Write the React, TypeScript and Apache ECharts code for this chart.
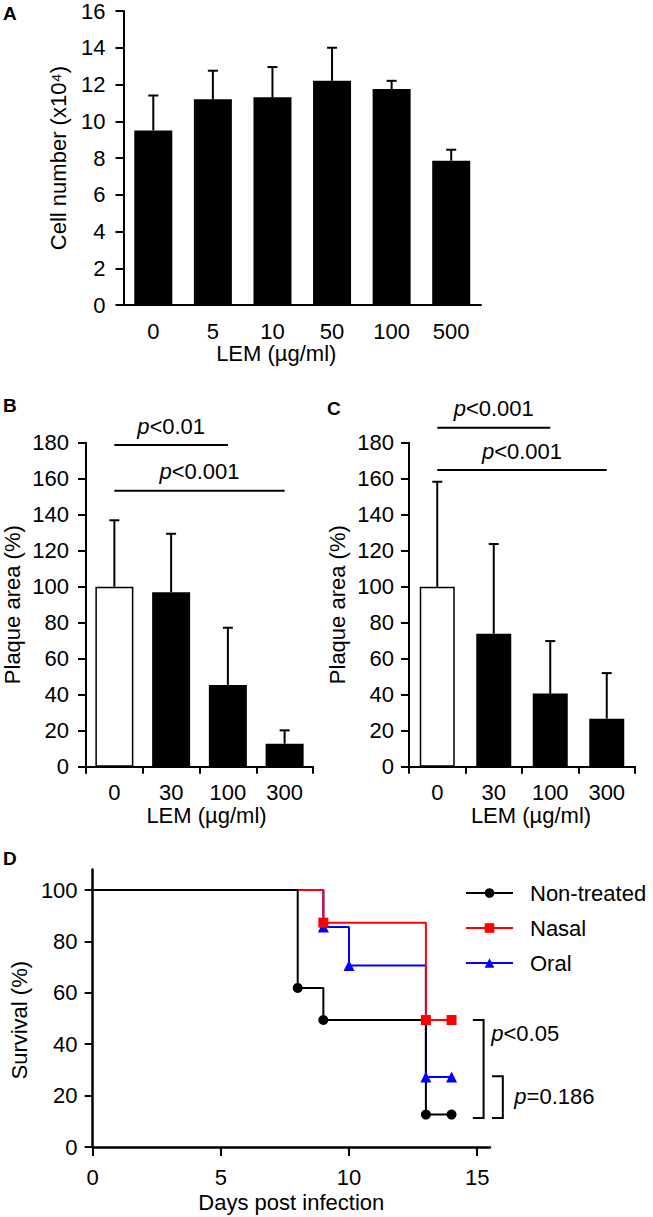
import React, { useEffect, useRef } from 'react';
import * as echarts from 'echarts';

const FONT = '"Liberation Sans", Arial, Helvetica, sans-serif';
const FS = 22;

// ---------- Panel A ----------
const aCategories = ['0', '5', '10', '50', '100', '500'];
const aMeans = [9.5, 11.2, 11.3, 12.2, 11.75, 7.85];
const aUpper = [11.4, 12.75, 12.95, 14.0, 12.2, 8.45];

// ---------- Panel B ----------
const bCategories = ['0', '30', '100', '300'];
const bMeans = [100, 96.9, 45.4, 12.8];
const bUpper = [136.9, 129.4, 77.2, 20.2];
const bSig = [
  { from: 0, to: 2, y: 178.7, label: '<0.01' },
  { from: 0, to: 3.1, y: 153.3, label: '<0.001' },
];

// ---------- Panel C ----------
const cCategories = ['0', '30', '100', '300'];
const cMeans = [100, 73.9, 40.6, 26.7];
const cUpper = [158.3, 123.7, 69.8, 52];
const cSig = [
  { from: 0.02, to: 2.05, y: 188.3, label: '<0.001' },
  { from: 0, to: 3.15, y: 164.8, label: '<0.001' },
];

// ---------- Panel D ----------
const nonDays = [0, 8, 9, 13, 14];
const nonSurv = [100, 61.9, 49.4, 12.6, 12.6];
const nasalDays = [0, 9, 13, 14];
const nasalSurv = [100, 87.3, 49.4, 49.4];
const oralDays = [0, 9, 10, 13, 14];
const oralSurv = [100, 85.6, 70.6, 27.2, 27.2];
const dXTicks = [0, 5, 10, 15];
const dYTicks = [0, 20, 40, 60, 80, 100];
const brackets = [
  { arm: 14.83, vert: 15.25, top: 49.4, bottom: 11.3, labelX: 15.55, labelY: 44.3, label: '<0.05' },
  { arm: 15.58, vert: 16.0, top: 27.5, bottom: 11.3, labelX: 16.45, labelY: 19.8, label: '=0.186' },
];

const black = '#000';
const axisLine = { show: true, lineStyle: { color: black, width: 2 } };
const labelStyle = { color: black, fontSize: FS, fontFamily: FONT };
const nameStyle = { color: black, fontSize: FS, fontFamily: FONT };
const pRich = { i: { fontStyle: 'italic', fontSize: FS, fontFamily: FONT, color: black } };

const errRender = (capHalf: number) => (params: any, api: any) => {
  const i = api.value(0);
  const m = api.value(1);
  const u = api.value(2);
  const p1 = api.coord([i, m]);
  const p2 = api.coord([i, u]);
  const style = { stroke: black, lineWidth: 2 };
  return {
    type: 'group',
    children: [
      { type: 'line', shape: { x1: p1[0], y1: p1[1], x2: p2[0], y2: p2[1] }, style },
      { type: 'line', shape: { x1: p2[0] - capHalf, y1: p2[1], x2: p2[0] + capHalf, y2: p2[1] }, style },
    ],
  };
};

const sigRender = (sig: any[]) => (params: any, api: any) => {
  const s = sig[params.dataIndex];
  const a = api.coord([s.from, s.y]);
  const b = api.coord([s.to, s.y]);
  return {
    type: 'group',
    children: [
      { type: 'line', shape: { x1: a[0], y1: a[1], x2: b[0], y2: b[1] }, style: { stroke: black, lineWidth: 2 } },
      {
        type: 'text',
        style: {
          text: '{i|p}' + s.label,
          x: (a[0] + b[0]) / 2,
          y: a[1] - 19,
          align: 'center',
          verticalAlign: 'middle',
          fill: black,
          fontSize: FS,
          fontFamily: FONT,
          rich: pRich,
        },
      },
    ],
  };
};

const bracketRender = (params: any, api: any) => {
  const s = brackets[params.dataIndex];
  const p = [
    api.coord([s.arm, s.top]),
    api.coord([s.vert, s.top]),
    api.coord([s.vert, s.bottom]),
    api.coord([s.arm, s.bottom]),
  ];
  const t = api.coord([s.labelX, s.labelY]);
  return {
    type: 'group',
    children: [
      { type: 'polyline', shape: { points: p }, style: { stroke: black, lineWidth: 2, fill: 'none' } },
      {
        type: 'text',
        style: {
          text: '{i|p}' + s.label,
          x: t[0],
          y: t[1],
          align: 'left',
          verticalAlign: 'middle',
          fill: black,
          fontSize: FS,
          fontFamily: FONT,
          rich: pRich,
        },
      },
    ],
  };
};

const catX = (
  cats: string[],
  ticks: boolean,
  name: string,
  gridIndex: number,
  nameGap: number,
  margin: number,
  namePad: number[]
) => ({
  type: 'category',
  gridIndex,
  data: cats,
  axisLine,
  axisTick: ticks
    ? { show: true, alignWithLabel: false, interval: 0, length: 7, lineStyle: { color: black, width: 2 } }
    : { show: false },
  axisLabel: { ...labelStyle, margin, interval: 0 },
  splitLine: { show: false },
  name,
  nameLocation: 'middle',
  nameGap,
  nameTextStyle: { ...nameStyle, padding: namePad },
});

const valY = (max: number, interval: number, name: string, gridIndex: number, nameGap: number, margin: number) => ({
  type: 'value',
  gridIndex,
  min: 0,
  max,
  interval,
  axisLine,
  axisTick: { show: true, length: 8, lineStyle: { color: black, width: 2 } },
  axisLabel: { ...labelStyle, margin },
  splitLine: { show: false },
  name,
  nameLocation: 'middle',
  nameGap,
  nameRotate: 90,
  nameTextStyle: nameStyle,
});

const makeBars = (means: number[], whiteFirst: boolean) =>
  means.map((v, i) =>
    whiteFirst && i === 0
      ? { value: v, itemStyle: { color: '#fff', borderColor: black, borderWidth: 1.5 } }
      : { value: v, itemStyle: { color: black } }
  );

const stepSeries = (name: string, days: number[], surv: number[], color: string, symbol: string, size: number) => ({
  type: 'line',
  name,
  xAxisIndex: 3,
  yAxisIndex: 3,
  step: 'end',
  symbol,
  symbolSize: size,
  showAllSymbol: true,
  lineStyle: { color, width: 2 },
  itemStyle: { color },
  data: days.map((d, i) => (i === 0 ? { value: [d, surv[i]], symbol: 'none' } : { value: [d, surv[i]] })),
});

const letter = (text: string, left: number, top: number) => ({
  type: 'text',
  left,
  top,
  style: { text, fontSize: 19, fontWeight: 'bold', fontFamily: FONT, fill: black },
});

export default function App() {
  const ref = useRef<HTMLDivElement>(null);
  useEffect(() => {
    if (!ref.current) return;
    const chart = echarts.init(ref.current, undefined, { renderer: 'svg' });
    const option: any = {
      animation: false,
      backgroundColor: '#fff',
      textStyle: { fontFamily: FONT },
      grid: [
        { left: 123.5, top: 11, width: 357.5, height: 294 },
        { left: 85, top: 442.7, width: 228, height: 324 },
        { left: 409, top: 442.7, width: 226, height: 324 },
        { left: 92, top: 869.44, width: 398, height: 277.56 },
      ],
      xAxis: [
        catX(aCategories, false, 'LEM (µg/ml)', 0, 37, 15, [0, 52, 0, 0]),
        catX(bCategories, true, 'LEM (µg/ml)', 1, 35, 15, [0, 0, 0, 14]),
        catX(cCategories, true, 'LEM (µg/ml)', 2, 35, 15, [0, 0, 0, 18]),
        {
          type: 'value',
          gridIndex: 3,
          min: 0,
          max: 15.5,
          axisLine: { show: true, lineStyle: { color: black, width: 2.5 } },
          axisTick: { show: true, customValues: dXTicks, length: 9, lineStyle: { color: black, width: 2 } },
          axisLabel: { ...labelStyle, customValues: dXTicks, margin: 19 },
          splitLine: { show: false },
          name: 'Days post infection',
          nameLocation: 'middle',
          nameGap: 44,
          nameTextStyle: nameStyle,
        },
      ],
      yAxis: [
        valY(16, 2, 'Cell number (x10⁴)', 0, 54, 18),
        valY(180, 20, 'Plaque area (%)', 1, 63, 17),
        valY(180, 20, 'Plaque area (%)', 2, 61, 15),
        {
          type: 'value',
          gridIndex: 3,
          min: 0,
          max: 108,
          axisLine: { show: true, lineStyle: { color: black, width: 2.5 } },
          axisTick: { show: true, customValues: dYTicks, length: 8, lineStyle: { color: black, width: 2 } },
          axisLabel: { ...labelStyle, customValues: dYTicks, margin: 15 },
          splitLine: { show: false },
          name: 'Survival (%)',
          nameLocation: 'middle',
          nameGap: 52,
          nameRotate: 90,
          nameTextStyle: { ...nameStyle, padding: [0, 24, 0, 0] },
        },
      ],
      legend: {
        data: ['Non-treated', 'Nasal', 'Oral'],
        orient: 'vertical',
        left: 460,
        top: 877,
        itemWidth: 47,
        itemHeight: 12,
        itemGap: 13,
        textStyle: { ...nameStyle, lineHeight: 22, padding: [0, 0, 0, 12] },
      },
      series: [
        { type: 'bar', xAxisIndex: 0, yAxisIndex: 0, barWidth: 38, data: makeBars(aMeans, false) },
        {
          type: 'custom',
          xAxisIndex: 0,
          yAxisIndex: 0,
          renderItem: errRender(5),
          data: aMeans.map((m, i) => [i, m, aUpper[i]]),
          z: 3,
        },
        { type: 'bar', xAxisIndex: 1, yAxisIndex: 1, barWidth: 38, data: makeBars(bMeans, true) },
        {
          type: 'custom',
          xAxisIndex: 1,
          yAxisIndex: 1,
          renderItem: errRender(5),
          data: bMeans.map((m, i) => [i, m, bUpper[i]]),
          z: 3,
        },
        {
          type: 'custom',
          xAxisIndex: 1,
          yAxisIndex: 1,
          renderItem: sigRender(bSig),
          data: bSig.map((s) => [s.from, s.to, s.y]),
        },
        { type: 'bar', xAxisIndex: 2, yAxisIndex: 2, barWidth: 35, data: makeBars(cMeans, true) },
        {
          type: 'custom',
          xAxisIndex: 2,
          yAxisIndex: 2,
          renderItem: errRender(5),
          data: cMeans.map((m, i) => [i, m, cUpper[i]]),
          z: 3,
        },
        {
          type: 'custom',
          xAxisIndex: 2,
          yAxisIndex: 2,
          renderItem: sigRender(cSig),
          data: cSig.map((s) => [s.from, s.to, s.y]),
        },
        stepSeries('Oral', oralDays, oralSurv, '#0000ff', 'triangle', 11),
        stepSeries('Nasal', nasalDays, nasalSurv, '#ff0000', 'rect', 10),
        stepSeries('Non-treated', nonDays, nonSurv, black, 'circle', 10),
        {
          type: 'custom',
          xAxisIndex: 3,
          yAxisIndex: 3,
          renderItem: bracketRender,
          data: brackets.map((b) => [b.vert, b.top]),
        },
      ],
      graphic: [letter('A', 3, 4), letter('B', 3, 396), letter('C', 327, 399), letter('D', 3, 849)],
    };
    chart.setOption(option);
    return () => chart.dispose();
  }, []);
  return <div ref={ref} style={{ position: 'absolute', left: 0, top: 0, width: 653, height: 1217 }} />;
}
